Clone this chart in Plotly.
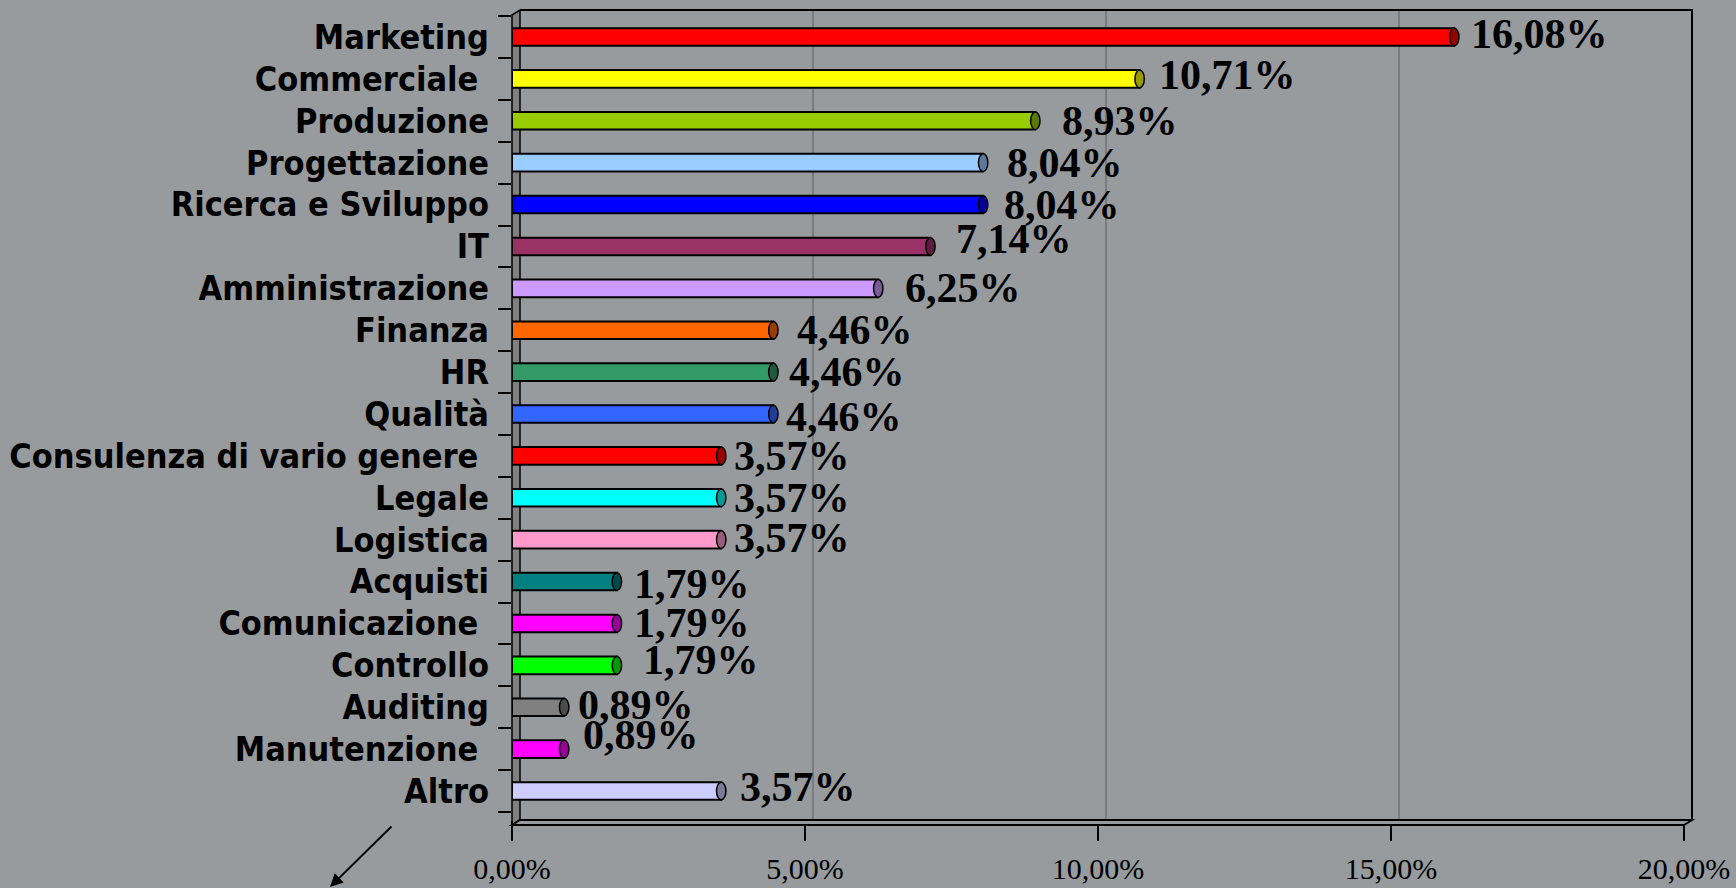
import plotly.graph_objects as go

# ---- data ----
categories = ["Marketing", "Commerciale\u00a0", "Produzione", "Progettazione", "Ricerca e Sviluppo",
              "IT", "Amministrazione", "Finanza", "HR", "Qualità",
              "Consulenza di vario genere\u00a0", "Legale", "Logistica", "Acquisti",
              "Comunicazione\u00a0", "Controllo", "Auditing", "Manutenzione\u00a0", "Altro"]
values = [16.08, 10.71, 8.93, 8.04, 8.04, 7.14, 6.25, 4.46, 4.46, 4.46,
          3.57, 3.57, 3.57, 1.79, 1.79, 1.79, 0.89, 0.89, 3.57]
value_labels = ["16,08%", "10,71%", "8,93%", "8,04%", "8,04%", "7,14%", "6,25%", "4,46%", "4,46%", "4,46%",
                "3,57%", "3,57%", "3,57%", "1,79%", "1,79%", "1,79%", "0,89%", "0,89%", "3,57%"]
tick_vals = [0, 5, 10, 15, 20]
tick_text = ["0,00%", "5,00%", "10,00%", "15,00%", "20,00%"]

# ---- styles ----
bar_colors = ["#ff0000", "#ffff00", "#99cc00", "#99ccff", "#0000ff", "#993366", "#cc99ff",
              "#ff6600", "#339966", "#3366ff", "#ff0000", "#00ffff", "#ff99cc", "#008080",
              "#ff00ff", "#00ff00", "#808080", "#ff00ff", "#ccccff"]
label_dx = [15, 17, 25, 22, 19, 24, 25, 22, 14, 11, 11, 11, 11, 15, 15, 24, 12, 17, 17]
label_dy = [3, 4, 0, 0, 0, 7, 0, 0, 0, -3, 0, 0, 2, -2, 0, 5, 2, 14, 4]

W, H = 1736, 888
L, R, T, B = 512, 52, 15, 68
pw, ph = W - L - R, H - T - B
dx, dy = 8 / pw, 5 / ph
bg = "#979b9e"
xmax = 20


def darker(hexc, f=0.6):
    r, g, b = int(hexc[1:3], 16), int(hexc[3:5], 16), int(hexc[5:7], 16)
    return "#%02x%02x%02x" % (int(r * f), int(g * f), int(b * f))


fig = go.Figure()
fig.add_trace(go.Bar(
    x=values, y=categories, orientation="h",
    marker=dict(color=bar_colors, line=dict(color="black", width=2)),
    width=0.42, hoverinfo="skip",
))

shapes = []
# back gridlines (offset for 3D depth)
for v in tick_vals[1:-1]:
    shapes.append(dict(type="line", xref="x domain", yref="y domain",
                       x0=v / xmax + dx, x1=v / xmax + dx, y0=0, y1=1 + dy,
                       line=dict(color="#5a5d60", width=1), layer="below"))
# side wall
shapes.append(dict(type="path", xref="x domain", yref="y domain",
                   path=f"M 0 {-dy} L 0 1 L {dx} {1 + dy} L {dx} 0 Z",
                   fillcolor="#808080", line=dict(color="black", width=1.5), layer="below"))
# back frame (top + right)
shapes.append(dict(type="path", xref="x domain", yref="y domain",
                   path=f"M {dx} {1 + dy} L {1 + dx} {1 + dy} L {1 + dx} 0",
                   line=dict(color="black", width=2), layer="below"))
# floor
shapes.append(dict(type="path", xref="x domain", yref="y domain",
                   path=f"M 0 {-dy} L 1 {-dy} L {1 + dx} 0 L {dx} 0 Z",
                   fillcolor=bg, line=dict(color="black", width=2), layer="above"))
# cylinder caps
for i, (v, c) in enumerate(zip(values, bar_colors)):
    shapes.append(dict(type="circle", xref="x", yref="y",
                       x0=v - 0.08, x1=v + 0.08, y0=i - 0.21, y1=i + 0.21,
                       fillcolor=darker(c), line=dict(color="black", width=1.5)))

annotations = []
for i, (v, t) in enumerate(zip(values, value_labels)):
    annotations.append(dict(x=v, y=categories[i], xref="x", yref="y", text=t,
                            showarrow=False, xanchor="left", yanchor="middle",
                            xshift=label_dx[i], yshift=label_dy[i],
                            font=dict(family="Liberation Serif", size=42, color="black", weight="bold")))
# arrow at bottom left
annotations.append(dict(xref="paper", yref="paper", x=(330 - L) / pw, y=(H - B - 887) / ph,
                        ax=63, ay=-62, axref="pixel", ayref="pixel", showarrow=True,
                        arrowhead=2, arrowsize=1.3, arrowwidth=2, arrowcolor="black", text=""))

fig.update_layout(
    width=W, height=H,
    margin=dict(l=L, r=R, t=T, b=B, pad=0, autoexpand=False),
    paper_bgcolor=bg, plot_bgcolor=bg,
    showlegend=False,
    shapes=shapes, annotations=annotations,
    xaxis=dict(range=[0, xmax], tickmode="array", tickvals=tick_vals, ticktext=tick_text,
               showgrid=False, zeroline=False, showline=False, automargin=False,
               ticks="outside", ticklen=20, tickwidth=2, tickcolor="black",
               ticklabelstandoff=2,
               tickfont=dict(family="Liberation Serif", size=30, color="black"), fixedrange=True),
    yaxis=dict(autorange="reversed", tickmode="array", tickvals=categories, ticktext=categories,
               showgrid=False, zeroline=False, showline=False, automargin=False,
               ticks="outside", tickson="boundaries", ticklen=13, tickwidth=2, tickcolor="black",
               ticklabelstandoff=22,
               tickfont=dict(family="DejaVu Sans Condensed", size=34, color="black", weight="bold"),
               fixedrange=True),
)

fig.write_html("out.html", config={"displayModeBar": False},
               post_script="document.body.style.margin='0';document.body.style.background='" + bg + "';")
